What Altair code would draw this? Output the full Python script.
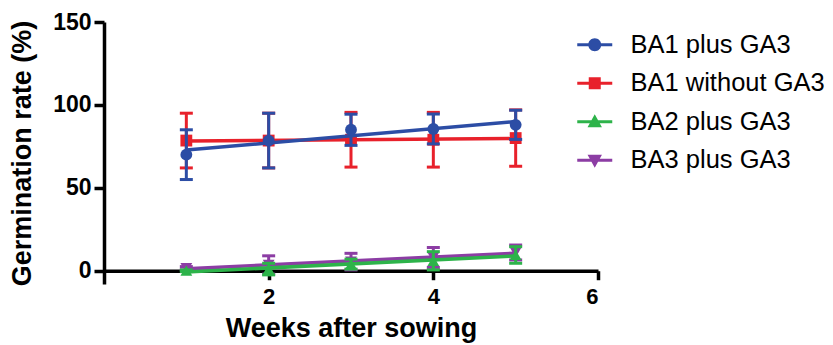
import altair as alt
import pandas as pd

# ---- data ----
weeks = [1, 2, 3, 4, 5]
series_names = ["BA1 plus GA3", "BA1 without GA3", "BA2 plus GA3", "BA3 plus GA3"]
colors = ["#2C4DA5", "#E8212B", "#2DB34A", "#8C3DA4"]
point_shapes = ["circle", "square", "triangle-up", "triangle-down"]

ba1_plus_mean = [70, 78.5, 85, 85.5, 88]
ba1_plus_err = [15, 16.5, 9.4, 9, 8.8]
ba1_without_mean = [78.5, 78.5, 79, 79, 80]
ba1_without_err = [16.5, 16.5, 16.5, 16.5, 17]
ba2_plus_mean = [0, 1, 4, 6, 9.5]
ba2_plus_err = [0.5, 3.5, 3, 5.5, 5]
ba3_plus_mean = [1.5, 3.5, 5.5, 8, 11]
ba3_plus_err = [1, 5.5, 5, 6, 4.5]

means = [ba1_plus_mean, ba1_without_mean, ba2_plus_mean, ba3_plus_mean]
errs = [ba1_plus_err, ba1_without_err, ba2_plus_err, ba3_plus_err]

x_ticks = [2, 4, 6]
y_ticks = [0, 50, 100, 150]

rows = []
for name, m, e in zip(series_names, means, errs):
    for w, mv, ev in zip(weeks, m, e):
        rows.append({"series": name, "week": w, "mean": mv, "lo": mv - ev, "hi": mv + ev})
df = pd.DataFrame(rows)

FONT = "Liberation Sans"
W, H = 494, 262
Y_MIN, Y_MAX = -8, 150
x_scale = alt.Scale(domain=[0, 6], nice=False, zero=False)
y_scale = alt.Scale(domain=[Y_MIN, Y_MAX], nice=False, zero=False)
axis_offset = -H * (0 - Y_MIN) / (Y_MAX - Y_MIN)

x_axis = alt.Axis(
    values=x_ticks, title="Weeks after sowing", grid=False, offset=axis_offset,
    domainColor="black", domainWidth=3.5, tickColor="black", tickWidth=3.5, tickSize=9,
    labelFont=FONT, labelFontSize=22, labelFontWeight="bold", labelColor="black", labelPadding=7,
    titleFont=FONT, titleFontSize=27, titleFontWeight="bold", titleColor="black", titlePadding=8,
)
y_axis = alt.Axis(
    values=y_ticks, title="Germination rate (%)", grid=False,
    domainColor="black", domainWidth=3.5, tickColor="black", tickWidth=3.5, tickSize=10,
    labelFont=FONT, labelFontSize=23, labelFontWeight="bold", labelColor="black", labelPadding=3,
    titleFont=FONT, titleFontSize=27, titleFontWeight="bold", titleColor="black", titlePadding=16,
)


def X(field):
    return alt.X(field, scale=x_scale, axis=x_axis)


def Y(field):
    return alt.Y(field, scale=y_scale, axis=y_axis)


base = alt.Chart(df)
layers = []
for i in reversed(range(len(series_names))):
    name, col, shp = series_names[i], colors[i], point_shapes[i]
    sb = base.transform_filter(alt.datum.series == name)
    rule = sb.mark_rule(color=col, strokeWidth=3, opacity=1).encode(
        x=X("week:Q"), y=Y("hi:Q"), y2="lo:Q")
    cap_hi = sb.mark_tick(color=col, orient="horizontal", size=13, thickness=3, opacity=1).encode(
        x=X("week:Q"), y=Y("hi:Q"))
    cap_lo = sb.mark_tick(color=col, orient="horizontal", size=13, thickness=3, opacity=1).encode(
        x=X("week:Q"), y=Y("lo:Q"))
    line = sb.transform_regression("week", "mean", method="linear", extent=[1, 5]).mark_line(
        color=col, strokeWidth=3.5).encode(x=X("week:Q"), y=Y("mean:Q"))
    pts = sb.mark_point(color=col, shape=shp, filled=True, size=140, opacity=1).encode(
        x=X("week:Q"), y=Y("mean:Q"))
    layers += [rule, cap_hi, cap_lo, line, pts]

# legend symbols: line with marker (custom paths in unit coordinates)
bar = "M-1.75,-0.15H1.75V0.15H-1.75Z"
legend_paths = [
    bar + "M0.65,0A0.65,0.65,0,1,1,-0.65,0A0.65,0.65,0,1,1,0.65,0Z",
    bar + "M-0.6,-0.6H0.6V0.6H-0.6Z",
    bar + "M0,-0.75L0.72,0.55H-0.72Z",
    bar + "M0,0.75L-0.72,-0.55H0.72Z",
]
leg = alt.Legend(
    title=None, orient="none", legendX=478, legendY=10, symbolSize=400,
    symbolStrokeWidth=0, labelFont=FONT, labelFontSize=25.5, labelColor="black",
    labelOffset=23, rowPadding=11.5, padding=0, labelLimit=400,
)
legend_layer = base.transform_filter("datum.week < 0").mark_point(filled=True, opacity=1).encode(
    x=X("week:Q"),
    y=Y("mean:Q"),
    color=alt.Color("series:N", scale=alt.Scale(domain=series_names, range=colors), legend=leg),
    shape=alt.Shape("series:N", scale=alt.Scale(domain=series_names, range=legend_paths), legend=leg),
)
layers.append(legend_layer)

chart = alt.layer(*layers).properties(
    width=W, height=H, background="white",
    autosize=alt.AutoSizeParams(type="none"),
    padding={"left": 96, "top": 14, "right": 227, "bottom": 60},
).configure_view(stroke=None)

chart.save("out.html", embed_options={"renderer": "svg", "actions": False})
